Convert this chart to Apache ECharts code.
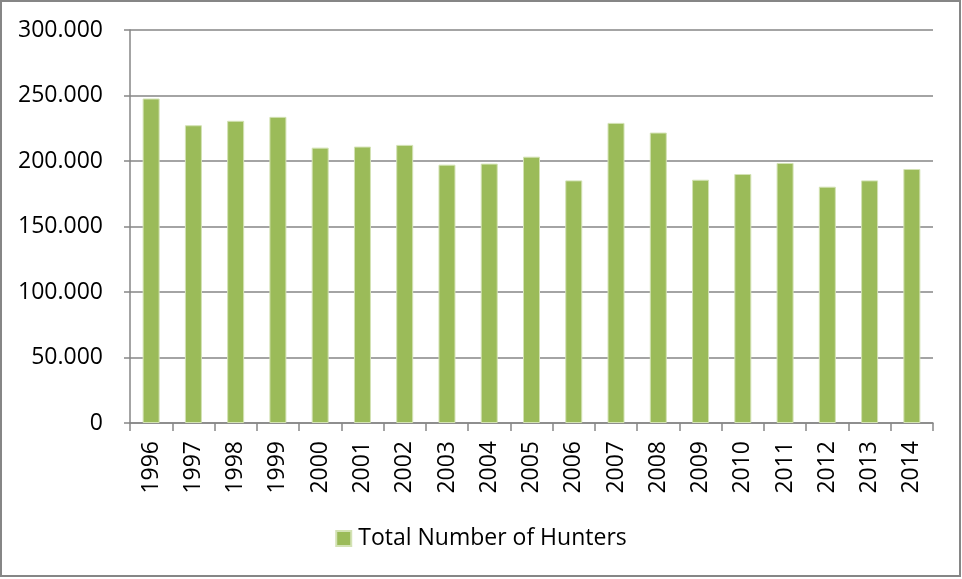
<!DOCTYPE html>
<html>
<head>
<meta charset="utf-8">
<script src="https://cdn.jsdelivr.net/npm/echarts@6/dist/echarts.min.js"></script>
<style>
  html, body { margin: 0; padding: 0; background: #fff; }
  #chart { width: 962px; height: 579px; }
</style>
</head>
<body>
<div id="chart"></div>
<script>
// Hunters per season, 1996–2014
const years = ['1996','1997','1998','1999','2000','2001','2002','2003','2004','2005',
               '2006','2007','2008','2009','2010','2011','2012','2013','2014'];
const hunters = [247700, 227300, 230700, 233700, 210200, 211000, 212300, 197200, 198000, 203300,
                 185200, 229100, 221700, 185700, 190100, 198500, 180400, 185200, 193900];
const seriesName = 'Total Number of Hunters';

const FONT = 'Open Sans';
const FONT_SIZE = 23;
const GRAY = '#868686';

// thousands separated by a dot
function fmt(v) {
  return String(v).replace(/\B(?=(\d{3})+(?!\d))/g, '.');
}

const chart = echarts.init(document.getElementById('chart'), null, { renderer: 'canvas' });
chart.setOption({
  backgroundColor: '#ffffff',
  animation: false,
  graphic: [{
    type: 'rect',
    shape: { x: 1, y: 1, width: 959, height: 575 },
    style: { fill: 'none', stroke: GRAY, lineWidth: 2 },
    silent: true
  }],
  grid: { left: 130, right: 29, top: 30, bottom: 156 },
  legend: {
    top: 522,
    left: 'center',
    itemWidth: 15,
    itemHeight: 15,
    itemGap: 6,
    icon: 'rect',
    textStyle: { fontFamily: FONT, fontSize: FONT_SIZE, color: '#000', padding: [0, 0, 0, 2] },
    data: [seriesName]
  },
  xAxis: {
    type: 'category',
    data: years,
    axisLine: { lineStyle: { color: GRAY, width: 1.5 } },
    axisTick: { show: true, length: 8, lineStyle: { color: GRAY, width: 1.5 } },
    axisLabel: {
      rotate: 90, margin: 18, interval: 0,
      fontFamily: FONT, fontSize: FONT_SIZE, color: '#000'
    }
  },
  yAxis: {
    type: 'value',
    min: 0, max: 300000, interval: 50000,
    axisLine: { show: true, lineStyle: { color: GRAY, width: 1.5 } },
    axisTick: { show: true, length: 6, lineStyle: { color: GRAY, width: 1.5 } },
    splitLine: { lineStyle: { color: GRAY, width: 1.5 } },
    axisLabel: {
      margin: 27,
      fontFamily: FONT, fontSize: FONT_SIZE, color: '#000',
      formatter: fmt
    }
  },
  series: [{
    name: seriesName,
    type: 'bar',
    data: hunters,
    barWidth: 17,
    itemStyle: { color: '#9BBB59', borderColor: '#d3e2b4', borderWidth: 1 }
  }]
});
</script>
</body>
</html>
